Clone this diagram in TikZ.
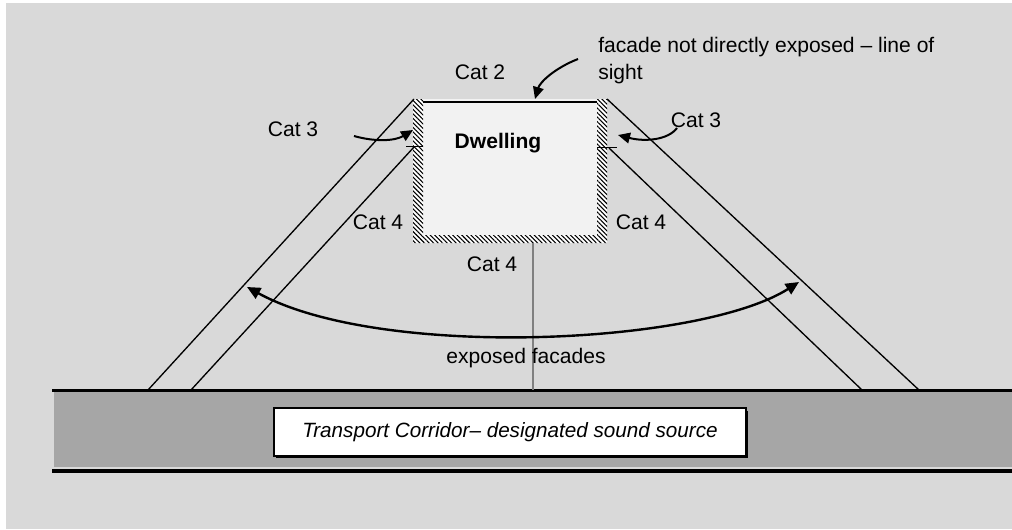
\documentclass[tikz,border=0pt]{standalone}
\usepackage{fontspec}
\setmainfont{Liberation Sans}
\usetikzlibrary{arrows.meta,patterns.meta}
\definecolor{bg}{HTML}{D9D9D9}
\definecolor{road}{HTML}{A6A6A6}
\definecolor{room}{HTML}{F2F2F2}
\definecolor{vline}{HTML}{808080}
\begin{document}
\begin{tikzpicture}[x=0.75pt,y=-0.75pt,
  lbl/.style={font=\fontsize{15.8}{20}\selectfont, inner sep=0pt},
  sight/.style={line width=1pt},
  arr/.style={line width=1.5pt,-{Triangle[length=9pt,width=8pt]}},
  darr/.style={line width=1.8pt,{Triangle[length=10pt,width=9pt]}-{Triangle[length=10pt,width=9pt]}},
  hatch/.style={pattern={Lines[angle=-45,distance=2.4pt,line width=0.8pt]},pattern color=black},
  corrbox/.style={draw, fill=white, line width=1.2pt, minimum width=354pt, minimum height=36pt, inner sep=0pt, font=\fontsize{15.5}{18}\selectfont\itshape}]
\useasboundingbox (0,0) rectangle (1012,529);
\fill[white] (0,0) rectangle (1012,529);
\fill[bg] (6,3) rectangle (1012,529);
% road
\fill[road] (54,391) rectangle (1012,468);
\draw[line width=2.2pt] (52,390.5) -- (1012,390.5);
\draw[line width=0.8pt, color=bg] (54,467.5) -- (1012,467.5);
\draw[line width=3pt] (52,471) -- (1012,471);
\fill[black] (275.5,410.5) rectangle (748,458);
\node[corrbox] (corridor) at (510,432) {Transport Corridor– designated sound source};
% dwelling
\fill[room] (413,99) rectangle (607,243);
\fill[white] (413,99) rectangle (423,243) (597,99) rectangle (607,243) (413,235) rectangle (607,243);
\path[hatch] (413,99) rectangle (423,243) (597,99) rectangle (607,243) (413,235) rectangle (607,243);
\draw[line width=1.5pt] (423,102) -- (597,102);
\coordinate (tl) at (414,99);
\coordinate (tr) at (607,99);
\coordinate (ml) at (414,147);
\coordinate (mr) at (609,148);
\draw[line width=1pt] (406,146.5) -- (423,146.5);
\draw[line width=1pt] (597,147.5) -- (617,147.5);
\coordinate (db) at (533,243);
\coordinate (rt) at (533,390);
\draw[vline, line width=1.2pt] (db) -- (rt);
% sight lines
\coordinate (lo) at (148,390);
\coordinate (li) at (191,390);
\coordinate (ri) at (862,390);
\coordinate (ro) at (919,390);
\draw[sight] (lo) -- (tl);
\draw[sight] (li) -- (ml);
\draw[sight] (ro) -- (tr);
\draw[sight] (ri) -- (mr);
% labels
\node[lbl, font=\fontsize{15.8}{20}\selectfont\bfseries] (dw) at (498,143) {Dwelling};
\node[lbl] (cat2) at (480,72) {Cat 2};
\node[lbl] (cat3l) at (293,129) {Cat 3};
\node[lbl] (cat3r) at (696,120) {Cat 3};
\node[lbl] (cat4l) at (378,222) {Cat 4};
\node[lbl] (cat4r) at (641,222) {Cat 4};
\node[lbl] (cat4b) at (492,264) {Cat 4};
\node[lbl] (exp) at (526,358) {exposed facades};
\node[lbl, anchor=north west, align=left] (fac) at (598,37) {facade not directly exposed – line of\\sight};
% arrows
\coordinate (a2s) at (578,59);
\coordinate (a2e) at (535,99);
\draw[arr] (a2s) .. controls (555,68) and (540,82) .. (a2e);
\coordinate (a3ls) at (354,136);
\coordinate (a3le) at (413,130);
\draw[arr] (a3ls) .. controls (375,142) and (395,141) .. (a3le);
\coordinate (a3rs) at (677,128);
\coordinate (a3re) at (618,135);
\draw[arr] (a3rs) .. controls (668,140) and (645,142) .. (a3re);
\coordinate (el) at (247,287);
\coordinate (er) at (799,282);
\draw[darr] (el) .. controls (380,360) and (700,345) .. (er);
\end{tikzpicture}
\end{document}
